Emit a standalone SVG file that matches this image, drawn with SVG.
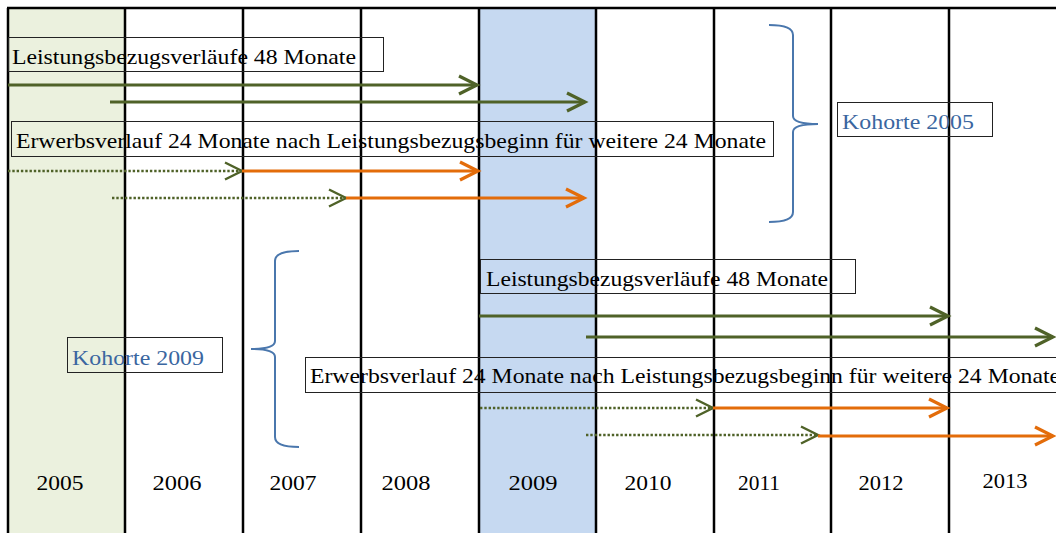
<svg xmlns="http://www.w3.org/2000/svg" width="1056" height="533" viewBox="0 0 1056 533">
  <style>
    .lbl { font-family: "Liberation Serif", "DejaVu Serif", serif; font-size: 22px; fill: #000; }
    .koh { font-family: "Liberation Serif", "DejaVu Serif", serif; font-size: 22px; fill: #3A66A0; }
    .yr { font-family: "Liberation Serif", "DejaVu Serif", serif; font-size: 22px; fill: #000; text-anchor: middle; }
    .box { fill: none; stroke: #222; stroke-width: 1; }
    .grid { stroke: #000; stroke-width: 2.5; fill: none; }
    .green { stroke: #4F6228; stroke-width: 3.2; fill: none; }
    .dot { stroke: #4F6228; stroke-width: 2.5; stroke-dasharray: 2.4 1.9; fill: none; }
    .orange { stroke: #E36C0A; stroke-width: 3.2; fill: none; }
    .brace { stroke: #4A77AD; stroke-width: 2; fill: none; }
  </style>
  <defs>
    <marker id="ag" markerUnits="userSpaceOnUse" markerWidth="24" markerHeight="24" viewBox="-20 -12 24 24" refX="0" refY="0" orient="auto">
      <path d="M-18,-9 L0,0 L-18,9" fill="none" stroke="#4F6228" stroke-width="3.2"/>
    </marker>
    <marker id="ad" markerUnits="userSpaceOnUse" markerWidth="24" markerHeight="24" viewBox="-20 -12 24 24" refX="0" refY="0" orient="auto">
      <path d="M-17,-8.5 L0,0 L-17,8.5" fill="none" stroke="#4F6228" stroke-width="2.4"/>
    </marker>
    <marker id="ao" markerUnits="userSpaceOnUse" markerWidth="24" markerHeight="24" viewBox="-20 -12 24 24" refX="0" refY="0" orient="auto">
      <path d="M-18,-9 L0,0 L-18,9" fill="none" stroke="#E36C0A" stroke-width="3.2"/>
    </marker>
  </defs>

  <rect width="1056" height="533" fill="#fff"/>

  <g id="columns">
    <rect x="8" y="8" width="117" height="525" fill="#EBF1DE"/>
    <rect x="479" y="8" width="117" height="525" fill="#C6D9F1"/>
  </g>

  <g id="grid">
    <line class="grid" x1="7" y1="8" x2="1056" y2="8"/>
    <line class="grid" x1="8" y1="8" x2="8" y2="533"/>
    <line class="grid" x1="125" y1="8" x2="125" y2="533"/>
    <line class="grid" x1="243" y1="8" x2="243" y2="533"/>
    <line class="grid" x1="361" y1="8" x2="361" y2="533"/>
    <line class="grid" x1="479" y1="8" x2="479" y2="533"/>
    <line class="grid" x1="596" y1="8" x2="596" y2="533"/>
    <line class="grid" x1="714" y1="8" x2="714" y2="533"/>
    <line class="grid" x1="831" y1="8" x2="831" y2="533"/>
    <line class="grid" x1="949" y1="8" x2="949" y2="533"/>
  </g>

  <g id="years">
    <text class="yr" x="60" y="490" textLength="47" lengthAdjust="spacingAndGlyphs">2005</text>
    <text class="yr" x="177" y="490" textLength="49" lengthAdjust="spacingAndGlyphs">2006</text>
    <text class="yr" x="293" y="490" textLength="47" lengthAdjust="spacingAndGlyphs">2007</text>
    <text class="yr" x="406" y="490" textLength="49" lengthAdjust="spacingAndGlyphs">2008</text>
    <text class="yr" x="533" y="490" textLength="49" lengthAdjust="spacingAndGlyphs">2009</text>
    <text class="yr" x="648" y="490" textLength="47" lengthAdjust="spacingAndGlyphs">2010</text>
    <text class="yr" x="759" y="490" textLength="42" lengthAdjust="spacingAndGlyphs">2011</text>
    <text class="yr" x="881" y="490" textLength="45" lengthAdjust="spacingAndGlyphs">2012</text>
    <text class="yr" x="1005" y="488" textLength="45" lengthAdjust="spacingAndGlyphs">2013</text>
  </g>

  <g id="label-leistung-2005">
    <rect class="box" x="8.5" y="37.5" width="375" height="34"/>
    <text class="lbl" x="12" y="64" textLength="344" lengthAdjust="spacingAndGlyphs">Leistungsbezugsverläufe 48 Monate</text>
  </g>
  <g id="label-erwerb-2005">
    <rect class="box" x="11.5" y="121.5" width="762" height="35"/>
    <text class="lbl" x="16" y="148" textLength="750" lengthAdjust="spacingAndGlyphs">Erwerbsverlauf 24 Monate nach Leistungsbezugsbeginn für weitere 24 Monate</text>
  </g>
  <g id="label-kohorte-2005">
    <rect class="box" x="837.5" y="102.5" width="155" height="34"/>
    <text class="koh" x="842" y="129" textLength="132" lengthAdjust="spacingAndGlyphs">Kohorte 2005</text>
  </g>
  <g id="label-leistung-2009">
    <rect class="box" x="480.5" y="259.5" width="375" height="34"/>
    <text class="lbl" x="486" y="286" textLength="342" lengthAdjust="spacingAndGlyphs">Leistungsbezugsverläufe 48 Monate</text>
  </g>
  <g id="label-erwerb-2009">
    <rect class="box" x="305.5" y="357.5" width="760" height="35"/>
    <text class="lbl" x="310" y="383" textLength="750" lengthAdjust="spacingAndGlyphs">Erwerbsverlauf 24 Monate nach Leistungsbezugsbeginn für weitere 24 Monate</text>
  </g>
  <g id="label-kohorte-2009">
    <rect class="box" x="67.5" y="337.5" width="155" height="35"/>
    <text class="koh" x="72" y="365" textLength="132" lengthAdjust="spacingAndGlyphs">Kohorte 2009</text>
  </g>

  <g id="connectors">
    <line class="green" x1="8" y1="85" x2="477" y2="85" marker-end="url(#ag)"/>
    <line class="green" x1="110" y1="102" x2="585" y2="102" marker-end="url(#ag)"/>
    <line class="dot" x1="8" y1="171" x2="242" y2="171" marker-end="url(#ad)"/>
    <line class="orange" x1="242" y1="171" x2="478" y2="171" marker-end="url(#ao)"/>
    <line class="dot" x1="112" y1="198" x2="346" y2="198" marker-end="url(#ad)"/>
    <line class="orange" x1="346" y1="198" x2="584" y2="198" marker-end="url(#ao)"/>

    <line class="green" x1="479" y1="316" x2="948" y2="316" marker-end="url(#ag)"/>
    <line class="green" x1="586" y1="337" x2="1053" y2="337" marker-end="url(#ag)"/>
    <line class="dot" x1="480" y1="408" x2="713" y2="408" marker-end="url(#ad)"/>
    <line class="orange" x1="713" y1="408" x2="947" y2="408" marker-end="url(#ao)"/>
    <line class="dot" x1="586" y1="435" x2="818" y2="435" marker-end="url(#ad)"/>
    <line class="orange" x1="818" y1="436" x2="1053" y2="436" marker-end="url(#ao)"/>

    <path class="brace" d="M769,25 Q793,25 793,35 L793,116 Q793,124 818,124 Q793,124 793,132 L793,212 Q793,222 769,222"/>
    <path class="brace" d="M299,251 Q275,251 275,261 L275,341 Q275,349 251,349 Q275,349 275,357 L275,437 Q275,447 299,447"/>
  </g>
</svg>
